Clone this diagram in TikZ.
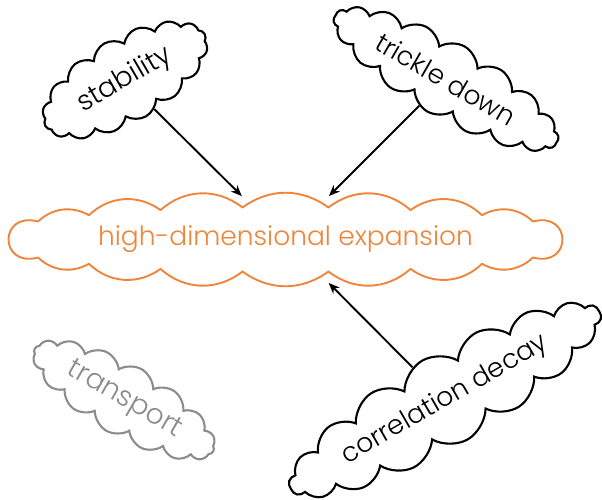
\documentclass[tikz,border=0pt]{standalone}
\usepackage{fontspec}
\setmainfont{Poppins Light}
\usetikzlibrary{shapes.symbols,shapes.geometric,arrows.meta}
\definecolor{hdeorange}{RGB}{239,133,58}
\definecolor{tgray}{RGB}{140,140,140}
\tikzset{
  puff/.style={cloud, cloud puff arc=120, cloud ignores aspect,
    draw, line width=2.1pt, inner sep=0pt, fill=white},
  hdetext/.style={ellipse, inner sep=0pt, outer sep=0pt, text=hdeorange,
    minimum width=554pt, minimum height=88pt},
  hdeline/.style={draw=hdeorange, line width=1.9pt, line join=round},
  conn/.style={-{Stealth[length=11pt,width=9pt]}, line width=1.9pt},
}
\begin{document}
\begin{tikzpicture}[x=1pt,y=1pt]
\useasboundingbox (0,0) rectangle (602,499);
% central cloud outline
\begin{scope}[shift={(285.5,259.5)}]
\draw[hdeline] (-247.5,-18)
  to[out=195,in=165,looseness=2.9] (-247.5,18)
  to[bend left=36] (-196.5,24.3)
  to[bend left=40] (-125,29.4)
  to[bend left=40] (-43,32)
  to[bend left=36] (43,32)
  to[bend left=40] (125,29.4)
  to[bend left=40] (196.5,24.3)
  to[bend left=36] (247.5,18)
  to[out=15,in=-15,looseness=2.9] (247.5,-18)
  to[bend left=36] (196.5,-24.3)
  to[bend left=40] (125,-29.4)
  to[bend left=40] (43,-32)
  to[bend left=36] (-43,-32)
  to[bend left=40] (-125,-29.4)
  to[bend left=40] (-196.5,-24.3)
  to[bend left=36] cycle;
\end{scope}
\node[hdetext, font=\fontsize{26.5}{30}\selectfont] (hde) at (285.5,259.5)
  {high-dimensional expansion};
\node[puff, cloud puffs=16, rotate=30, minimum width=184pt, minimum height=84pt,
  font=\fontsize{27.5}{32}\selectfont]
  (stab) at (125,419) {stability};
\node[puff, cloud puffs=18, rotate=-30, minimum width=256pt, minimum height=75pt,
  font=\fontsize{26.4}{31}\selectfont]
  (trick) at (446,420) {trickle down};
\node[puff, cloud puffs=18, rotate=30, minimum width=356pt, minimum height=91pt,
  font=\fontsize{26.6}{31}\selectfont]
  (corr) at (445,99) {correlation decay};
\node[puff, cloud puffs=16, rotate=-30, draw=tgray, text=tgray,
  minimum width=206pt, minimum height=71pt, font=\fontsize{28}{32}\selectfont]
  (trans) at (124,99) {transport};
\draw[conn] (stab) -- (hde);
\draw[conn] (trick) -- (hde);
\draw[conn] (corr) -- (hde);
\end{tikzpicture}
\end{document}
